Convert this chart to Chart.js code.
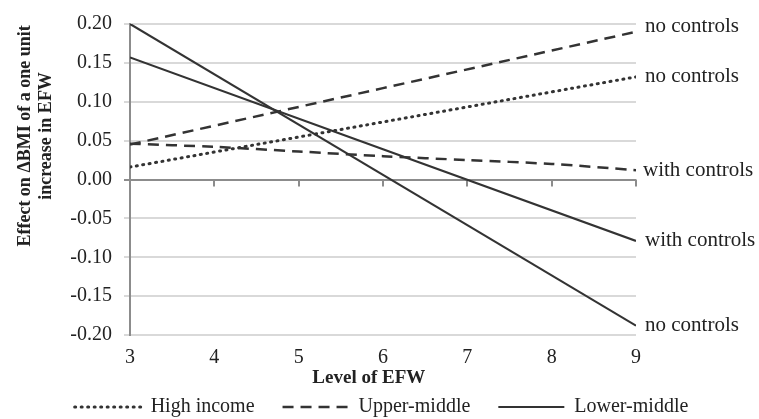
<!DOCTYPE html>
<html>
<head>
<meta charset="utf-8">
<script src="https://cdn.jsdelivr.net/npm/chart.js@4"></script>
<style>
  html, body { margin: 0; padding: 0; background: #fff; }
</style>
</head>
<body>
<canvas id="chart" width="759" height="419"></canvas>
<script>
const efwEnds = [3, 9];
const efwLevels = [3, 4, 5, 6, 7, 8, 9];
const highNoControls = [0.016, 0.132];
const upperNoControls = [0.045, 0.190];
const upperWithControls = [0.046, 0.042, 0.036, 0.030, 0.025, 0.020, 0.012];
const lowerNoControls = [0.200, -0.188];
const lowerWithControls = [0.157, -0.079];
const yTicks = [-0.20, -0.15, -0.10, -0.05, 0.00, 0.05, 0.10, 0.15, 0.20];
const xTitle = 'Level of EFW';
const yTitle = ['Effect on \u0394BMI of a one unit', 'increase in EFW'];

const pts = (xs, ys) => ys.map((y, i) => ({ x: xs[i], y }));
const ink = '#333';
const textInk = '#222';
const serif = "'Liberation Serif', 'Times New Roman', serif";

const dotted = { borderDash: [1, 5.5], borderWidth: 3, borderCapStyle: 'round' };
const dashed = { borderDash: [11, 7], borderWidth: 2.5, borderCapStyle: 'butt' };
const solid = { borderDash: [], borderWidth: 2.2, borderCapStyle: 'butt' };

const datasets = [
    { label: 'High income', endLabel: 'no controls', data: pts(efwEnds, highNoControls), ...dotted },
    { label: 'Upper-middle', endLabel: 'no controls', dy: -5, data: pts(efwEnds, upperNoControls), ...dashed },
    { label: 'Upper-middle', endLabel: 'with controls', dx: -2, data: pts(efwLevels, upperWithControls), ...dashed },
    { label: 'Lower-middle', endLabel: 'no controls', data: pts(efwEnds, lowerNoControls), ...solid },
    { label: 'Lower-middle', endLabel: 'with controls', data: pts(efwEnds, lowerWithControls), ...solid }
].map(d => ({ ...d, borderColor: ink, backgroundColor: ink, pointRadius: 0, pointStyle: 'line', tension: 0.3, fill: false }));

// labels at the right end of each line
const endLabels = {
    id: 'endLabels',
    afterDatasetsDraw(chart) {
        const ctx = chart.ctx;
        ctx.save();
        ctx.font = `21px ${serif}`;
        ctx.fillStyle = textInk;
        ctx.textBaseline = 'middle';
        chart.data.datasets.forEach((ds, i) => {
            const els = chart.getDatasetMeta(i).data;
            const p = els[els.length - 1];
            ctx.fillText(ds.endLabel, p.x + 9 + (ds.dx || 0), p.y + (ds.dy || 0));
        });
        ctx.restore();
    }
};

// tick marks along the zero line + axis titles
const axisExtras = {
    id: 'axisExtras',
    beforeDatasetsDraw(chart) {
        const { ctx, scales: { x, y } } = chart;
        const y0 = y.getPixelForValue(0);
        ctx.save();
        ctx.strokeStyle = '#8c8c8c';
        ctx.lineWidth = 2;
        ctx.beginPath();
        efwLevels.slice(1).forEach(v => {
            const px = Math.round(x.getPixelForValue(v));
            ctx.moveTo(px, y0);
            ctx.lineTo(px, y0 + 7);
        });
        ctx.stroke();
        ctx.restore();
    },
    afterDraw(chart) {
        const { ctx, chartArea: a } = chart;
        ctx.save();
        ctx.fillStyle = textInk;
        ctx.textAlign = 'center';
        ctx.textBaseline = 'middle';
        ctx.font = `bold 19px ${serif}`;
        ctx.fillText(xTitle, a.left + (a.right - a.left) * 0.472, 378);
        ctx.font = `bold 18px ${serif}`;
        ctx.translate(25, a.top + (a.bottom - a.top) * 0.36);
        ctx.rotate(-Math.PI / 2);
        yTitle.forEach((t, i) => ctx.fillText(t, 0, i * 21));
        ctx.restore();
    }
};

new Chart(document.getElementById('chart'), {
    type: 'line',
    data: { datasets },
    plugins: [endLabels, axisExtras],
    options: {
        responsive: false,
        animation: false,
        layout: { padding: { top: 14, right: 0, left: 4, bottom: -8 } },
        plugins: {
            tooltip: { enabled: false },
            legend: {
                position: 'bottom',
                labels: {
                    generateLabels: chart => Chart.defaults.plugins.legend.labels.generateLabels(chart)
                        .filter(item => [0, 1, 3].includes(item.datasetIndex))
                        .map(item => {
                            const ds = chart.data.datasets[item.datasetIndex];
                            return { ...item, lineDash: ds.borderDash, lineCap: ds.borderCapStyle, lineWidth: ds.borderWidth, strokeStyle: ink };
                        }),
                    usePointStyle: true,
                    pointStyleWidth: 66,
                    padding: 28,
                    color: textInk,
                    font: { family: serif, size: 20 }
                }
            }
        },
        scales: {
            x: {
                type: 'linear',
                min: 3,
                max: 9,
                afterFit: s => { s.height = 34; },
                grid: { display: false },
                border: { display: false },
                ticks: { stepSize: 1, color: textInk, padding: 3, font: { family: serif, size: 20 } }
            },
            y: {
                min: -0.2,
                max: 0.2,
                afterFit: s => { s.width = 126; },
                afterBuildTicks: s => { s.ticks = yTicks.map(value => ({ value })); },
                grid: {
                    color: c => c.tick && Math.abs(c.tick.value) < 1e-9 ? '#8c8c8c' : '#d9d9d9',
                    lineWidth: 2,
                    tickLength: 6
                },
                border: { color: '#8c8c8c', width: 2 },
                ticks: { autoSkip: false, color: textInk, padding: 12, callback: v => v.toFixed(2), font: { family: serif, size: 20 } }
            },
            // empty right-hand axis that keeps room for the line labels
            yRight: {
                position: 'right',
                min: -0.2,
                max: 0.2,
                afterFit: s => { s.width = 123; },
                grid: { display: false },
                border: { display: false },
                ticks: { display: false }
            }
        }
    }
});
</script>
</body>
</html>
